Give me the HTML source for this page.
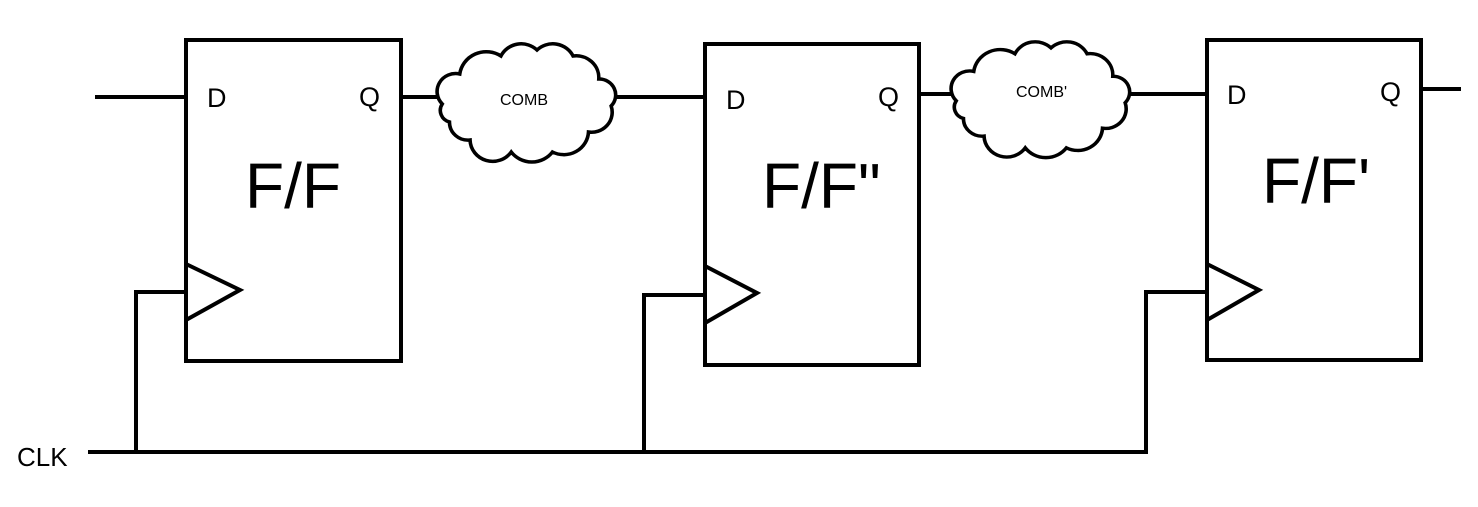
<!DOCTYPE html>
<html><head><style>
html,body{margin:0;padding:0;background:#fff;}
svg{display:block;}
text{font-family:"Liberation Sans",sans-serif;fill:#000;}
</style></head><body>
<svg width="1478" height="507" viewBox="0 0 1478 507" xmlns="http://www.w3.org/2000/svg">
<defs>
<path id="cloud" d="M8,60 A18,18 0 0 1 25,30 A26,26 0 0 1 65,12 A22,22 0 0 1 100,6 A22,22 0 0 1 135,12 A22,22 0 0 1 160,35 A16,16 0 0 1 172,62 A20,20 0 0 1 150,88 A24,24 0 0 1 115,108 A25,25 0 0 1 75,108 A22,22 0 0 1 35,96 A18,18 0 0 1 15,78 A12,12 0 0 1 8,60 Z" fill="#fff" stroke="#000" stroke-width="3.5"/>
</defs>
<g stroke="#000" stroke-width="4" fill="none">
<rect x="186" y="40" width="215" height="321"/>
<rect x="705" y="44" width="214" height="321"/>
<rect x="1207" y="40" width="214" height="320"/>
<polyline points="186,264 240,290 186,320"/>
<polyline points="705,266 757,293 705,323"/>
<polyline points="1207,264 1259,290 1207,320"/>
<line x1="95" y1="97" x2="186" y2="97"/>
<line x1="401" y1="97" x2="440" y2="97"/>
<line x1="610" y1="97" x2="705" y2="97"/>
<line x1="919" y1="94" x2="955" y2="94"/>
<line x1="1125" y1="94" x2="1207" y2="94"/>
<line x1="1421" y1="89" x2="1461" y2="89"/>
<line x1="88" y1="452" x2="1148" y2="452"/>
<polyline points="136,452 136,292 186,292"/>
<polyline points="644,452 644,295 705,295"/>
<polyline points="1146,452 1146,292 1207,292"/>
</g>
<use href="#cloud" transform="translate(434,44) scale(1.03,1.0)"/>
<use href="#cloud" transform="translate(948,42) scale(1.03,0.98)"/>
<text x="207" y="107" font-size="27">D</text>
<text x="359" y="106" font-size="27">Q</text>
<text x="726" y="109" font-size="27">D</text>
<text x="878" y="106" font-size="27">Q</text>
<text x="1227" y="104" font-size="27">D</text>
<text x="1380" y="101" font-size="27">Q</text>
<text x="245" y="208" font-size="64">F/F</text>
<text x="762" y="208" font-size="64">F/F"</text>
<text x="1262" y="203" font-size="64">F/F'</text>
<text x="500" y="105" font-size="16" fill="#1a1a40">COMB</text>
<text x="1016" y="97" font-size="16" fill="#1a1a40">COMB'</text>
<text x="17" y="466" font-size="26">CLK</text>
</svg>
</body></html>
